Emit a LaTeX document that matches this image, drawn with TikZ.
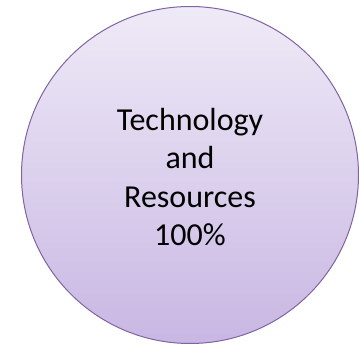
\documentclass[tikz,border=0pt]{standalone}
\usepackage{fontspec}
\setmainfont{Carlito}
\definecolor{topc}{HTML}{EFEAF7}
\definecolor{botc}{HTML}{C8B7E3}
\definecolor{edgec}{HTML}{8064A2}
\begin{document}
\begin{tikzpicture}[x=1pt,y=1pt,
  bubble/.style={circle,minimum size=337pt,inner sep=0pt,draw=edgec,line width=1pt,top color=topc,bottom color=botc},
  label/.style={align=center,font=\fontsize{32}{38.5}\selectfont,text=black}]
\useasboundingbox (0,0) rectangle (359,345);
\node[bubble] (c) at (190,170) {};
\node[label] (t) at (190,168) {Technology\\and\\Resources\\100\%};
\end{tikzpicture}
\end{document}
